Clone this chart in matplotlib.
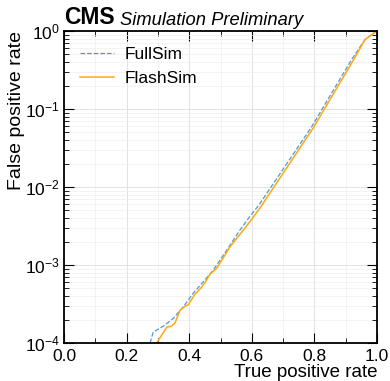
import matplotlib
matplotlib.use("Agg")
import matplotlib.pyplot as plt
from matplotlib.ticker import MultipleLocator, LogLocator, NullFormatter

plt.rcParams['font.family'] = ['Liberation Sans', 'DejaVu Sans']
plt.rcParams['mathtext.fontset'] = 'custom'
plt.rcParams['mathtext.rm'] = 'Liberation Sans'
plt.rcParams['mathtext.it'] = 'Liberation Sans:italic'

full_tpr = [0.275, 0.285, 0.318, 0.350, 0.382, 0.413, 0.445, 0.477, 0.520, 0.562, 0.594, 0.623, 0.791, 0.918, 0.962, 1.0]
full_fpr = [1.0e-4, 1.38e-4, 1.65e-4, 2.08e-4, 2.94e-4, 4.35e-4, 6.1e-4, 8.6e-4, 1.55e-3, 2.8e-3, 4.2e-3, 5.9e-3, 0.059, 0.425, 0.78, 1.0]

flash_tpr = [0.296, 0.328, 0.344, 0.355, 0.371, 0.387, 0.397, 0.418, 0.434, 0.450, 0.466, 0.488, 0.530, 0.594, 0.629, 0.796, 0.924, 0.962, 1.0]
flash_fpr = [1e-4, 1.59e-4, 1.65e-4, 1.82e-4, 2.63e-4, 2.96e-4, 3.1e-4, 4.2e-4, 4.9e-4, 5.9e-4, 7.6e-4, 9.1e-4, 1.7e-3, 3.6e-3, 5.6e-3, 0.057, 0.42, 0.78, 1.0]

fig = plt.figure(figsize=(3.90, 3.81), dpi=100)
ax = fig.add_axes([64/390, 1 - 343/381, 313/390, 312/381])

ax.plot(full_tpr, full_fpr, color='#4d9bd6', ls='--', lw=0.9, label='FullSim')
ax.plot(flash_tpr, flash_fpr, color='#ffa90e', ls='-', lw=1.1, label='FlashSim')

ax.set_yscale('log')
ax.set_xlim(0, 1)
ax.set_ylim(1e-4, 1)
ax.xaxis.set_major_locator(MultipleLocator(0.2))
ax.xaxis.set_minor_locator(MultipleLocator(0.1))
ax.yaxis.set_major_locator(LogLocator(base=10, numticks=10))
ax.yaxis.set_minor_locator(LogLocator(base=10, subs=range(2, 10), numticks=20))
ax.yaxis.set_minor_formatter(NullFormatter())

ax.tick_params(which='both', direction='in', top=True, right=True, labelsize=12.5)
ax.tick_params(axis='x', pad=4)
ax.tick_params(axis='y', pad=3)
ax.tick_params(which='major', length=7, width=0.8)
ax.tick_params(which='minor', length=3.5, width=0.6)
for s in ax.spines.values():
    s.set_linewidth(1.3)

ax.grid(True, which='major', color='#dddddd', lw=0.6)
ax.grid(True, which='minor', color='#eeeeee', lw=0.5)
ax.set_axisbelow(True)

ax.set_xlabel('True positive rate', fontsize=13.5, loc='right', labelpad=0)
ax.set_ylabel('False positive rate', fontsize=14, loc='top', labelpad=0)

ax.legend(loc='upper left', frameon=False, fontsize=12.5, handlelength=2.0,
          borderaxespad=0.5, labelspacing=0.5, handletextpad=0.6)

ax.text(0.0, 1.005, 'CMS', transform=ax.transAxes, fontsize=16.5, fontweight='bold',
        va='bottom', ha='left')
ax.text(0.178, 1.005, 'Simulation Preliminary', transform=ax.transAxes, fontsize=13.2,
        style='italic', va='bottom', ha='left')

fig.savefig('out.png', dpi=100)
